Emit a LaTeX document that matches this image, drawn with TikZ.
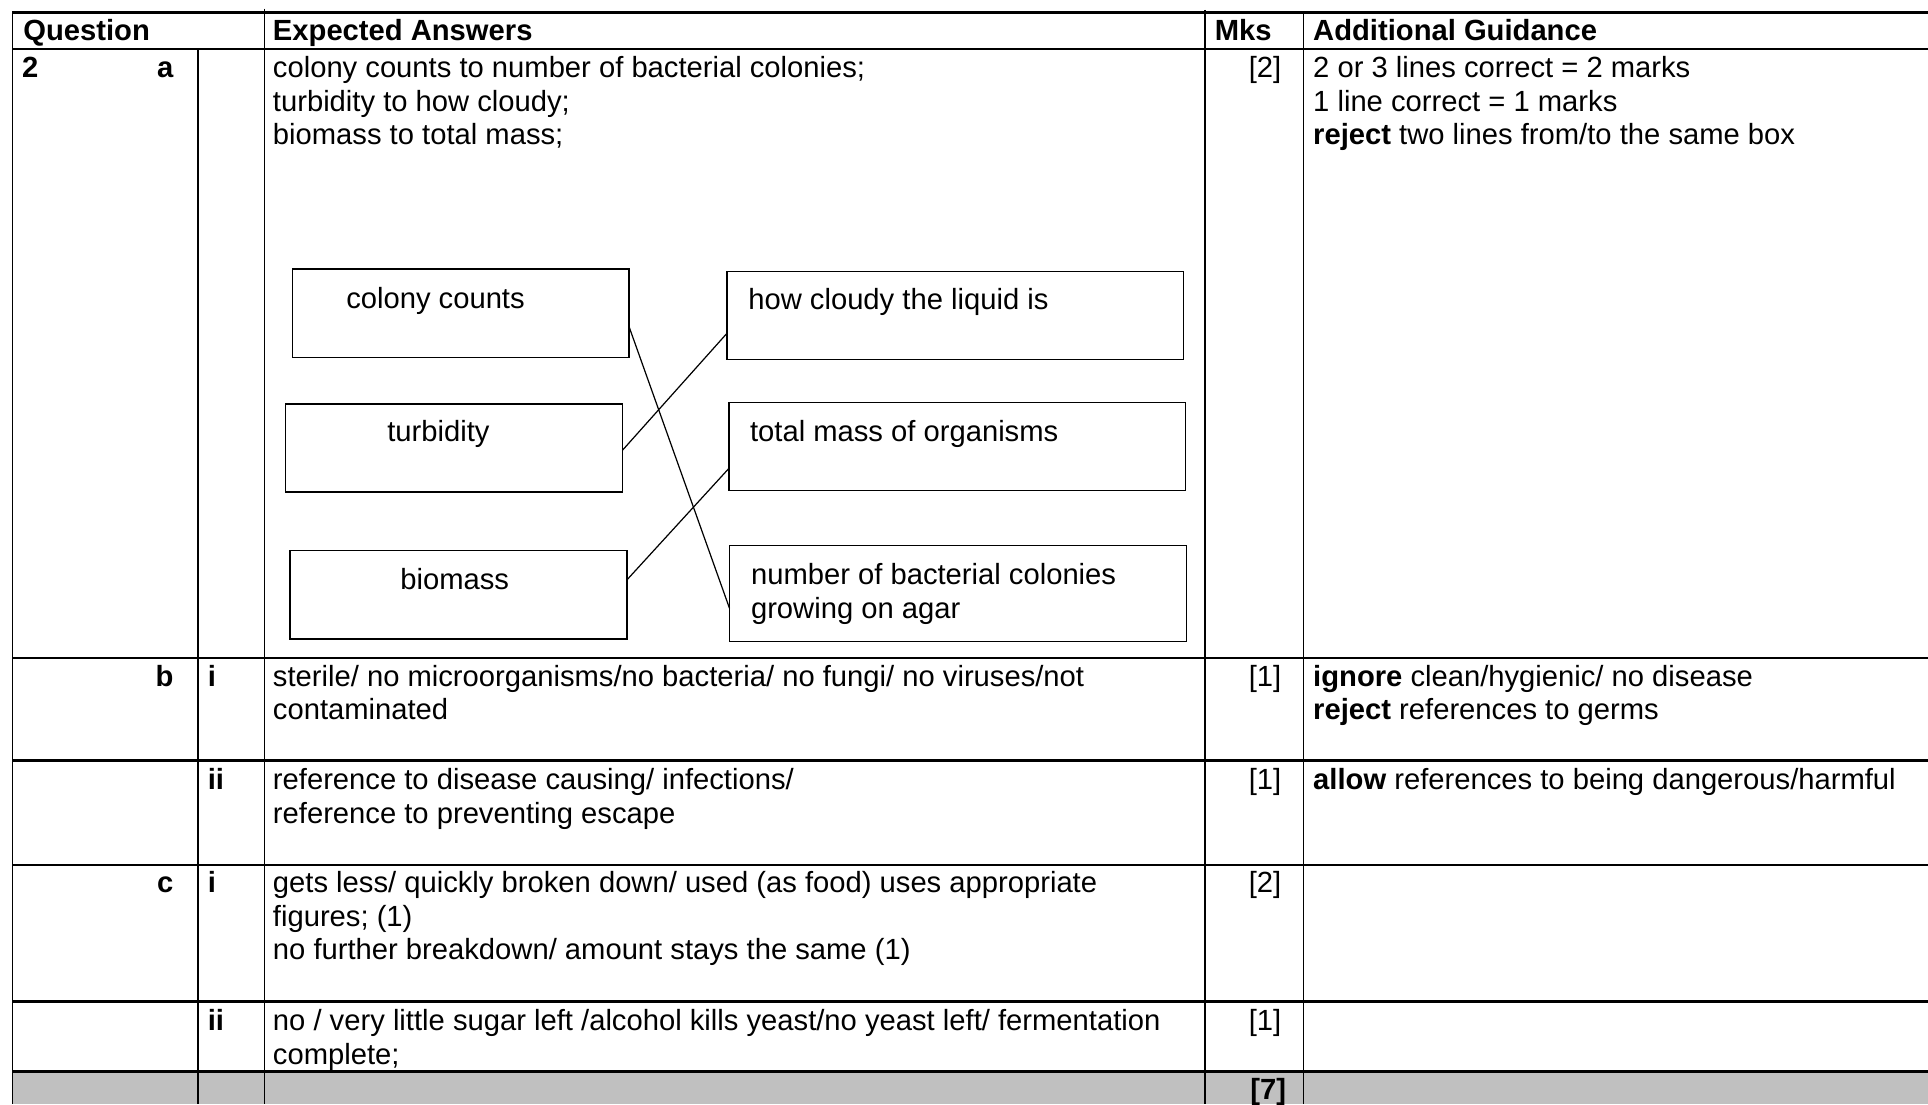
\documentclass[tikz,border=0pt]{standalone}
\usepackage{fontspec}
\setmainfont{Liberation Sans}
\usetikzlibrary{calc}
\definecolor{rowgrey}{RGB}{192,192,192}
\def\u{0.5055pt}
\begin{document}
\begin{tikzpicture}[x=\u,y=-\u,
  txt/.style={anchor=base west,inner sep=0,outer sep=0,yshift=-0.55pt,font=\fontsize{12pt}{13.8pt}\selectfont},
  txtr/.style={txt,anchor=base east},
  hd/.style={txt,font=\fontsize{12pt}{13.8pt}\selectfont\bfseries},
  hdr/.style={hd,anchor=base east},
  bx/.style={draw,line width=0.6pt,anchor=north west,inner sep=0,outer sep=0},
  hl/.style={line width=1pt},
  vl/.style={line width=0.65pt},
  link/.style={line width=0.5pt}]
\useasboundingbox (0,0) rectangle (1568,898);
% grey total row
\fill[rowgrey] (10,871.5) rectangle (1568,898);
% horizontal rules
\foreach \yy in {10,40,535,618.5,703.5,814.5,871.5}
  \draw[hl] (10,\yy) -- (1568,\yy);
% vertical rules
\draw[vl] (10,10) -- (10,898);
\draw[vl] (161,40) -- (161,898);
\draw[vl] (215,7) -- (215,898);
\draw[vl] (980,8) -- (980,898);
\draw[vl] (1060,10) -- (1060,898);
% header
\node[hd] (h1) at (19,32) {Question};
\node[hd] (h2) at (222,32) {Expected Answers};
\node[hd] (h3) at (988,32) {Mks};
\node[hd] (h4) at (1068,32) {Additional Guidance};
% row a
\node[hd] (qa1) at (18,62) {2};
\node[hdr] (qa2) at (141,62) {a};
\node[txt] (aa1) at (222,62) {colony counts to number of bacterial colonies;};
\node[txt] (aa2) at (222,89.3) {turbidity to how cloudy;};
\node[txt] (aa3) at (222,116.6) {biomass to total mass;};
\node[txtr] (ma) at (1042,62) {[2]};
\node[txt] (ga1) at (1068,62) {2 or 3 lines correct = 2 marks};
\node[txt] (ga2) at (1068,89.3) {1 line correct = 1 marks};
\node[txt] (ga3) at (1068,116.6) {\textbf{reject} two lines from/to the same box};
% matching boxes
\node[bx,minimum width={273.9*\u},minimum height={71.8*\u}] (cc) at (237.7,218.8) {};
\node[bx,minimum width={274*\u},minimum height={71.5*\u}] (tb) at (232.4,328.6) {};
\node[bx,minimum width={273.9*\u},minimum height={71.9*\u}] (bm) at (235.9,447.8) {};
\node[bx,minimum width={371.4*\u},minimum height={71.5*\u}] (hc) at (591.3,220.7) {};
\node[bx,minimum width={371.3*\u},minimum height={71.5*\u}] (tm) at (592.8,327.5) {};
\node[bx,minimum width={371.8*\u},minimum height={78*\u}] (nb) at (593.3,443.8) {};
\node[txt] (cct) at (281.6,249.6) {colony counts};
\node[txt] (tbt) at (315,358) {turbidity};
\node[txt] (bmt) at (325.6,478.7) {biomass};
\node[txt] (hct) at (608.6,251) {how cloudy the liquid is};
\node[txt] (tmt) at (610,358) {total mass of organisms};
\node[txt] (nbt1) at (610.8,474.6) {number of bacterial colonies};
\node[txt] (nbt2) at (610.8,501.9) {growing on agar};
% connectors
\draw[link] ($(cc.north east)!0.653!(cc.south east)$) -- ($(nb.north west)!0.653!(nb.south west)$);
\draw[link] ($(tb.north east)!0.523!(tb.south east)$) -- ($(hc.north west)!0.703!(hc.south west)$);
\draw[link] ($(bm.north east)!0.332!(bm.south east)$) -- ($(tm.north west)!0.747!(tm.south west)$);
% row b i
\node[hdr] (qb1) at (141,557) {b};
\node[hd] (qb2) at (169,557) {i};
\node[txt] (ab1) at (222,557) {sterile/ no microorganisms/no bacteria/ no fungi/ no viruses/not};
\node[txt] (ab2) at (222,584.3) {contaminated};
\node[txtr] (mb) at (1042,557) {[1]};
\node[txt] (gb1) at (1068,557) {\textbf{ignore} clean/hygienic/ no disease};
\node[txt] (gb2) at (1068,584.3) {\textbf{reject} references to germs};
% row b ii
\node[hd] (qbb) at (169,641) {ii};
\node[txt] (abb1) at (222,641) {reference to disease causing/ infections/};
\node[txt] (abb2) at (222,668.3) {reference to preventing escape};
\node[txtr] (mbb) at (1042,641) {[1]};
\node[txt] (gbb) at (1068,641) {\textbf{allow} references to being dangerous/harmful};
% row c i
\node[hdr] (qc1) at (141,725) {c};
\node[hd] (qc2) at (169,725) {i};
\node[txt] (ac1) at (222,725) {gets less/ quickly broken down/ used (as food) uses appropriate};
\node[txt] (ac2) at (222,752.3) {figures; (1)};
\node[txt] (ac3) at (222,779.6) {no further breakdown/ amount stays the same (1)};
\node[txtr] (mc) at (1042,725) {[2]};
% row c ii
\node[hd] (qcc) at (169,837) {ii};
\node[txt] (acc1) at (222,837) {no / very little sugar left /alcohol kills yeast/no yeast left/ fermentation};
\node[txt] (acc2) at (222,864.3) {complete;};
\node[txtr] (mcc) at (1042,837) {[1]};
% total
\node[hdr] (tot) at (1046,893) {[7]};
\end{tikzpicture}
\end{document}
